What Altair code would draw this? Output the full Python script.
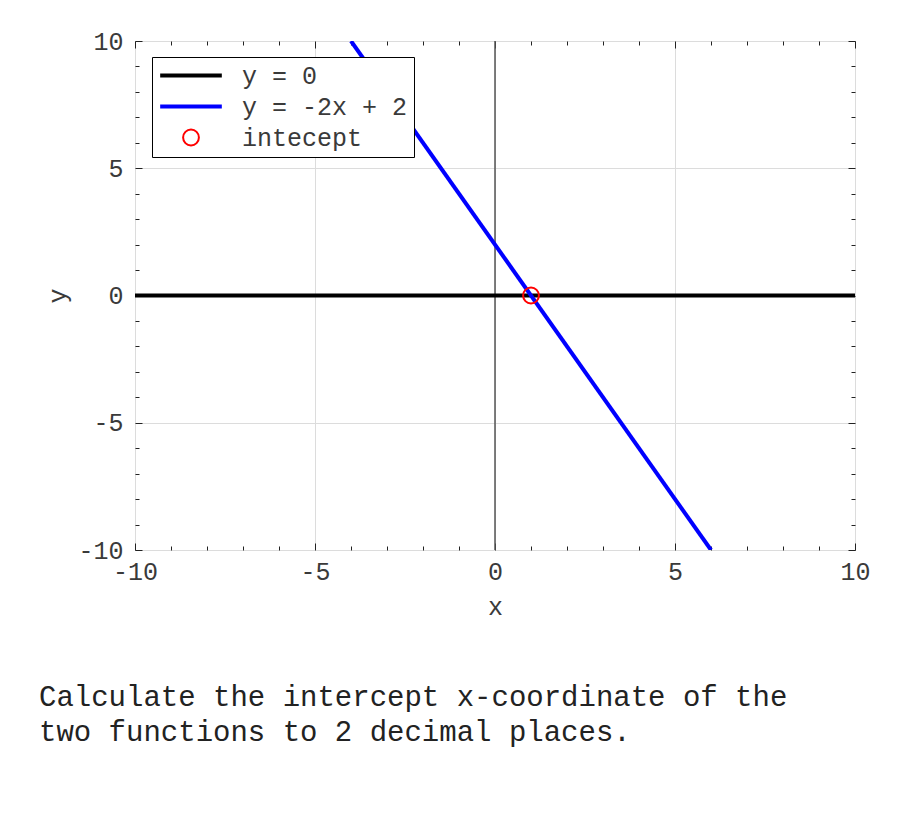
import altair as alt
import pandas as pd

# ---- data ----
series = ["y = 0", "y = -2x + 2", "intecept"]
series_colors = ["black", "blue", "red"]
series_shapes = ["stroke", "stroke", "circle"]
series_sizes = [3800, 3800, 250]
series_widths = [4, 4, 2]

h_x = [-10, 10]
h_y = [0, 0]
b_x = [-4, 6]
b_y = [10, -10]
p_x = [1]
p_y = [0]
v_x = [0]

tick_values = list(range(-10, 11))
note_lines = ["Calculate the intercept x-coordinate of the",
              "two functions to 2 decimal places."]

FONT = "Liberation Mono"
TXT = "#3a3a3a"
W, H = 720, 509

h_df = pd.DataFrame({"x": h_x, "y": h_y, "s": [series[0]] * len(h_x)})
b_df = pd.DataFrame({"x": b_x, "y": b_y, "s": [series[1]] * len(b_x)})
p_df = pd.DataFrame({"x": p_x, "y": p_y, "s": [series[2]] * len(p_x)})
v_df = pd.DataFrame({"x": v_x})

xs = alt.Scale(domain=[-10, 10], nice=False, zero=False)
ys = alt.Scale(domain=[-10, 10], nice=False, zero=False)

major = "datum.value % 5 === 0"
label_expr = f"{major} ? '' + datum.value : ''"
tick_len = alt.condition(major, alt.value(7), alt.value(4))


def label_axis(orient, lpad, tpad):
    return alt.Axis(
        orient=orient, values=tick_values, domain=False, ticks=False,
        grid=True, gridColor="#dcdcdc", gridWidth=1,
        gridOpacity=alt.condition(major, alt.value(1), alt.value(0)),
        labelFont=FONT, labelFontSize=25, labelColor=TXT,
        labelExpr=label_expr, labelOverlap=False, labelFlush=False,
        labelBound=False, labelPadding=lpad,
        titleFont=FONT, titleFontSize=25, titleFontWeight="normal",
        titleColor=TXT, titlePadding=tpad,
    )


def tick_axis(orient, off):
    # an axis of the opposite side moved across the plot: ticks point inward
    return alt.Axis(
        orient=orient, offset=off, values=tick_values, domain=False,
        labels=False, grid=False, title=None, ticks=True,
        tickSize=tick_len, tickColor="#222222", tickWidth=1,
    )


def legend():
    return alt.Legend(
        title=None, orient="none", legendX=17, legendY=16,
        strokeColor="black", fillColor="white", padding=6,
        labelFont=FONT, labelFontSize=25, labelColor=TXT, labelOffset=18,
        labelLimit=500, clipHeight=25, rowPadding=5, symbolOpacity=1,
        symbolFillColor="transparent",
    )


color = alt.Color("s:N", scale=alt.Scale(domain=series, range=series_colors),
                  legend=legend())

vline = alt.Chart(v_df).mark_rule(color="#555555", strokeWidth=1.5).encode(
    x=alt.X("x:Q", scale=xs, axis=None)
)

hline = alt.Chart(h_df).mark_line(strokeWidth=4, clip=True).encode(
    x=alt.X("x:Q", scale=xs, axis=label_axis("bottom", 9, 10), title="x"),
    y=alt.Y("y:Q", scale=ys, axis=label_axis("left", 12, 7), title="y"),
    color=color,
)

bline = alt.Chart(b_df).mark_line(strokeWidth=4, clip=True).encode(
    x=alt.X("x:Q", scale=xs, axis=tick_axis("top", -H)),
    y=alt.Y("y:Q", scale=ys, axis=tick_axis("right", -W)),
    color=color,
)

pt = alt.Chart(p_df).mark_point(filled=False, opacity=1).encode(
    x=alt.X("x:Q", scale=xs, axis=tick_axis("bottom", -H)),
    y=alt.Y("y:Q", scale=ys, axis=tick_axis("left", -W)),
    color=color,
    shape=alt.Shape("s:N", scale=alt.Scale(domain=series, range=series_shapes),
                    legend=legend()),
    size=alt.Size("s:N", scale=alt.Scale(type="ordinal", domain=series, range=series_sizes),
                  legend=legend()),
    strokeWidth=alt.StrokeWidth("s:N", scale=alt.Scale(type="ordinal", domain=series,
                                                       range=series_widths),
                                legend=legend()),
)

chart = alt.layer(vline, hline, bline, pt).resolve_axis(
    x="independent", y="independent"
).properties(
    width=W, height=H,
    padding={"left": 127, "top": 33, "right": 37, "bottom": 267},
    autosize=alt.AutoSizeParams(type="none"),
    title=alt.TitleParams(
        text=note_lines, orient="bottom", anchor="start", frame="group",
        dx=-96, offset=64, font=FONT, fontSize=29, fontWeight="normal",
        color="#222222", lineHeight=35,
    ),
).configure_view(stroke="black", strokeWidth=1)

chart.save("out.html", embed_options={"renderer": "svg", "actions": False})
